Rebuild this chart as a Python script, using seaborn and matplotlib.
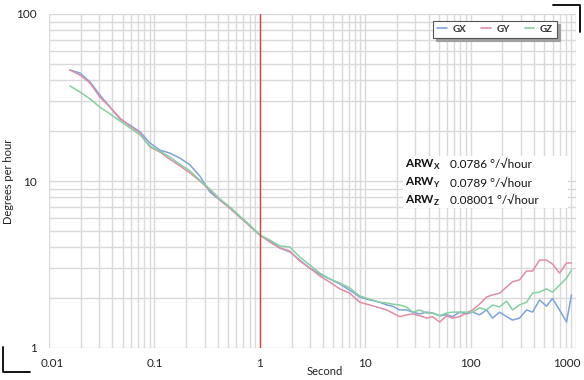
import numpy as np
import pandas as pd
import matplotlib
matplotlib.use("Agg")
import matplotlib.pyplot as plt
import matplotlib.transforms as mtransforms
from matplotlib.patches import Rectangle
from matplotlib.lines import Line2D
import seaborn as sns

# ---------------- data ----------------
tau = [0.0158, 0.0197, 0.0245, 0.0304, 0.0379, 0.0471, 0.0586, 0.0730, 0.0906, 0.113,
       0.140, 0.175, 0.217, 0.270, 0.336, 0.418, 0.520, 0.646, 0.804, 1.0,
       1.245, 1.549, 1.925, 2.39, 2.98, 3.71, 4.61, 5.73, 7.13, 8.87, 11.04,
       13.7, 16.0, 18.2, 21.2, 24.7, 28.2, 32.9, 38.3, 43.6, 50.8,
       59.3, 67.5, 78.7, 91.6, 104.5, 121.7, 141.8, 161.7, 188.4, 219.4,
       250.0, 291.2, 339.6, 387.3, 451, 525, 598, 698, 813, 906]

gx = [46.2, 44.3, 39.2, 32.7, 27.7, 23.5, 21.6, 19.7, 16.9, 15.3,
      14.7, 13.7, 12.5, 10.7, 8.59, 7.69, 6.89, 6.09, 5.38, 4.75,
      4.37, 3.97, 3.76, 3.36, 3.01, 2.77, 2.59, 2.42, 2.22, 2.02, 1.94,
      1.88, 1.81, 1.78, 1.69, 1.69, 1.64, 1.60, 1.64, 1.62, 1.56,
      1.58, 1.54, 1.64, 1.60, 1.64, 1.58, 1.69, 1.51, 1.64, 1.54,
      1.47, 1.51, 1.69, 1.64, 1.94, 1.78, 1.98, 1.69, 1.43, 2.08]

gy = [46.2, 43.1, 38.6, 31.8, 27.7, 23.8, 21.3, 19.4, 16.0, 14.9,
      13.5, 12.3, 11.2, 10.0, 8.83, 7.69, 6.89, 6.09, 5.38, 4.75,
      4.31, 3.97, 3.81, 3.32, 3.01, 2.70, 2.48, 2.26, 2.13, 1.88, 1.81,
      1.74, 1.69, 1.62, 1.54, 1.58, 1.60, 1.56, 1.51, 1.54, 1.43,
      1.56, 1.51, 1.54, 1.62, 1.69, 1.83, 2.02, 2.08, 2.13, 2.32,
      2.49, 2.56, 2.89, 2.89, 3.36, 3.36, 3.18, 2.81, 3.23, 3.23]

gz = [37.1, 34.1, 31.0, 27.7, 25.2, 22.9, 20.8, 18.9, 16.2, 15.1,
      13.9, 12.6, 11.5, 10.1, 8.96, 7.80, 6.99, 6.17, 5.45, 4.75,
      4.43, 4.08, 4.03, 3.51, 3.14, 2.81, 2.59, 2.45, 2.29, 2.05, 1.96,
      1.88, 1.86, 1.83, 1.81, 1.76, 1.64, 1.69, 1.62, 1.62, 1.56,
      1.62, 1.64, 1.64, 1.64, 1.64, 1.74, 1.69, 1.81, 1.76, 1.91,
      1.69, 1.81, 1.88, 2.13, 2.16, 2.26, 2.16, 2.38, 2.62, 2.93]

series_names = ["GX", "GY", "GZ"]
x_ticks = [0.01, 0.1, 1, 10, 100, 1000]
x_tick_labels = ["0.01", "0.1", "1", "10", "100", "1000"]
y_ticks = [1, 10, 100]
y_tick_labels = ["1", "10", "100"]
marker_tau = 1.0
arw_labels = ["X", "Y", "Z"]
arw_values = ["0.0786", "0.0789", "0.08001"]

# ---------------- style ----------------
sns.set_style("white")
plt.rcParams["font.family"] = ["Lato", "DejaVu Sans"]
plt.rcParams["mathtext.fontset"] = "custom"
plt.rcParams["mathtext.rm"] = "Lato"
plt.rcParams["mathtext.bf"] = "Lato:bold"

palette = {"GX": "#7fa4dc", "GY": "#e08ea6", "GZ": "#86d0a2"}

df = pd.concat([
    pd.DataFrame({"tau": tau, "value": v, "axis": n})
    for n, v in zip(series_names, [gx, gy, gz])
], ignore_index=True)

fig = plt.figure(figsize=(5.84, 3.80), dpi=100)
ax = fig.add_axes([49 / 584, 1 - 348 / 380, (576 - 49) / 584, (348 - 14) / 380])

sns.lineplot(data=df, x="tau", y="value", hue="axis", palette=palette,
             linewidth=1.1, ax=ax, legend=False, estimator=None, sort=False)

ax.set_xscale("log")
ax.set_yscale("log")
ax.set_xlim(0.01, 1000)
ax.set_ylim(1, 100)

ax.grid(True, which="both", color="#d9d9d9", linewidth=1.0)
ax.set_axisbelow(True)
for s in ax.spines.values():
    s.set_visible(False)

ax.set_xticks(x_ticks)
ax.set_xticklabels(x_tick_labels)
ax.set_yticks(y_ticks)
ax.set_yticklabels(y_tick_labels)
ax.tick_params(which="both", length=0, labelsize=8.5, colors="#222222")
ax.tick_params(axis="x", pad=7)
ax.tick_params(axis="y", pad=9)

# nudge first / last x tick labels like the reference
xlabs = ax.get_xticklabels()
xlabs[0].set_transform(xlabs[0].get_transform() +
                       mtransforms.ScaledTranslation(3 / 100, 0, fig.dpi_scale_trans))
xlabs[-1].set_transform(xlabs[-1].get_transform() +
                        mtransforms.ScaledTranslation(-9 / 100, 0, fig.dpi_scale_trans))

ax.axvline(marker_tau, color="#cc4444", linewidth=1.0, zorder=3)

ax.set_xlabel("Second", fontsize=8, color="#222222")
ax.xaxis.set_label_coords((325 - 49) / (576 - 49), -0.055)
ax.set_ylabel("Degrees per hour", fontsize=8, color="#222222")
ax.yaxis.set_label_coords(-(49 - 14) / (576 - 49), 0.5)

# legend
handles = [Line2D([0], [0], color=palette[n], lw=1.2) for n in series_names]
leg = fig.legend(handles, series_names, loc="upper right",
                 bbox_to_anchor=(557 / 584, 1 - 21 / 380), bbox_transform=fig.transFigure,
                 ncol=3, frameon=True, fancybox=False, fontsize=7,
                 handlelength=1.0, handletextpad=0.6, columnspacing=1.5,
                 borderpad=0.4, borderaxespad=0,
                 shadow={"color": "#a0a0a0", "alpha": 1.0})
leg.get_frame().set_edgecolor("#555555")
leg.get_frame().set_linewidth(0.8)
for t in leg.get_texts():
    t.set_color("#333333")
    t.set_fontweight("bold")

# ARW box
fig.patches.append(Rectangle((403 / 584, 1 - 208 / 380), (568 - 403) / 584, (208 - 156) / 380,
                             transform=fig.transFigure, facecolor="white",
                             edgecolor="none", zorder=2))
for i, (lab, val) in enumerate(zip(arw_labels, arw_values)):
    yy = 1 - (165 + i * 18) / 380
    fig.text(405 / 584, yy, "ARW$_{\\mathbf{" + lab + "}}$", fontsize=8.5,
             fontweight="bold", va="center", ha="left", color="#111111", zorder=3)
    fig.text(450 / 584, yy, val + " °/√hour", fontsize=8.5, va="center", ha="left",
             color="#111111", zorder=3, family=["Lato", "DejaVu Sans"])

# corner marks
fig.add_artist(Line2D([3 / 584, 3 / 584, 30 / 584], [1 - 347 / 380, 1 - 372 / 380, 1 - 372 / 380],
                      transform=fig.transFigure, color="black", lw=1.3))
fig.add_artist(Line2D([553 / 584, 580 / 584, 580 / 584], [1 - 5 / 380, 1 - 5 / 380, 1 - 32 / 380],
                      transform=fig.transFigure, color="black", lw=1.3))

fig.savefig("out.png", dpi=100)
